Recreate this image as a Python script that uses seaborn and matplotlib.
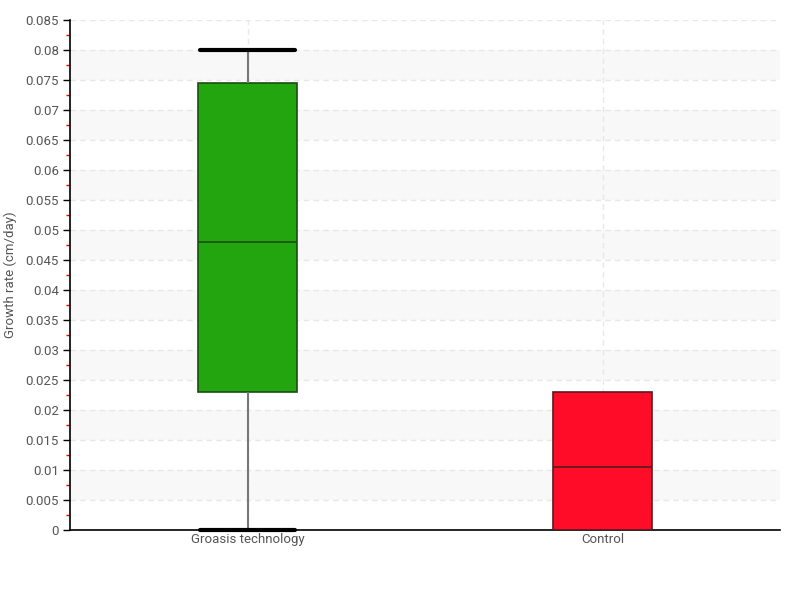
import pandas as pd
import numpy as np
import matplotlib.pyplot as plt
import seaborn as sns
from matplotlib.ticker import MultipleLocator, FuncFormatter

# five-number summaries (min, Q1, median, Q3, max)
categories = ["Groasis technology", "Control"]
groasis_vals = [0.0, 0.023, 0.048, 0.0745, 0.080]
control_vals = [0.0, 0.0, 0.0105, 0.023, 0.023]
box_colors = ["#22a50f", "#ff0d28"]
edge_colors = ["#1d4d14", "#5a1a20"]

df = pd.DataFrame({
    "group": [categories[0]] * len(groasis_vals) + [categories[1]] * len(control_vals),
    "rate": groasis_vals + control_vals,
})

sns.set_style("white")
plt.rcParams["font.family"] = ["Roboto", "DejaVu Sans"]

fig = plt.figure(figsize=(8, 6), dpi=100)
ax = fig.add_axes([0.0875, 0.1167, 0.8875, 0.85])

# alternating bands
for lo in np.arange(0.005, 0.085, 0.01):
    ax.axhspan(lo, lo + 0.005, color="#f8f8f8", zorder=0, lw=0)

for i, cat in enumerate(categories):
    sub = df[df["group"] == cat]
    sns.boxplot(data=sub, x="group", y="rate", order=categories, ax=ax,
                color=box_colors[i], saturation=1, width=0.28, whis=1.5,
                linecolor=edge_colors[i], linewidth=1.2,
                showcaps=(i == 0), showfliers=False, capwidths=0.27,
                whiskerprops=dict(color="#777777", linewidth=1.5),
                capprops=dict(color="black", linewidth=3, clip_on=False),
                medianprops=dict(color=edge_colors[i], linewidth=1.2),
                zorder=3)

ax.set_ylim(0, 0.085)
ax.set_xlim(-0.5, 1.5)
ax.yaxis.set_major_locator(MultipleLocator(0.005))
ax.yaxis.set_minor_locator(MultipleLocator(0.0025))
ax.yaxis.set_major_formatter(FuncFormatter(lambda v, p: f"{v:.3f}".rstrip("0").rstrip(".") if v else "0"))

ax.grid(True, axis="both", which="major", linestyle=(0, (4, 3)), color="#e8e8e8", linewidth=1, zorder=1)
ax.set_axisbelow(True)

for s in ["top", "right"]:
    ax.spines[s].set_visible(False)
for s in ["left", "bottom"]:
    ax.spines[s].set_color("black")
    ax.spines[s].set_linewidth(1.2)

ax.tick_params(axis="y", which="major", direction="out", length=5, width=1, color="black",
               labelsize=9.5, labelcolor="#555555", left=True, pad=3)
ax.tick_params(axis="y", which="minor", direction="out", length=3, width=1, color="#e00000", left=True)
ax.tick_params(axis="x", length=0, labelsize=9.5, labelcolor="#555555", pad=2)

ax.set_xlabel("")
ax.set_ylabel("Growth rate (cm/day)", fontsize=9.5, color="#555555", labelpad=6)

fig.savefig("out.png", dpi=100)
